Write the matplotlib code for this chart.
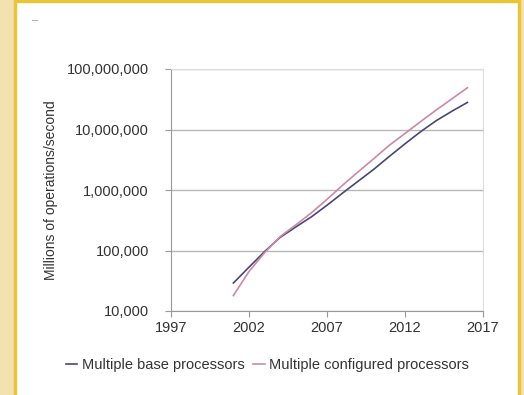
import matplotlib.pyplot as plt
from matplotlib.patches import Rectangle
from matplotlib.ticker import FuncFormatter

years = list(range(2001, 2017))
base = [29000, 53000, 96000, 165000, 245000, 360000, 560000, 890000,
        1400000, 2200000, 3600000, 5800000, 9200000, 14000000, 20000000, 28000000]
configured = [18000, 45000, 92000, 170000, 265000, 420000, 700000, 1200000,
              2000000, 3300000, 5500000, 8600000, 13500000, 21000000, 32000000, 49000000]
labels = ['Multiple base processors', 'Multiple configured processors']
xticks = [1997, 2002, 2007, 2012, 2017]

plt.rcParams['font.family'] = ['Liberation Sans', 'DejaVu Sans']

fig = plt.figure(figsize=(5.24, 3.95), dpi=100)
fig.patch.set_facecolor('white')
W, H = 524, 395
# beige margins and gold frame
fig.patches.append(Rectangle((0, 0), 14 / W, 1, transform=fig.transFigure, color='#f2e2b0', zorder=0))
fig.patches.append(Rectangle((520 / W, 0), 4 / W, 1, transform=fig.transFigure, color='#f2e2b0', zorder=0))
fig.patches.append(Rectangle((14 / W, 0), 2 / W, 1, transform=fig.transFigure, color='#e6c637', zorder=1))
fig.patches.append(Rectangle((518 / W, 0), 2 / W, 1, transform=fig.transFigure, color='#e6c637', zorder=1))
fig.patches.append(Rectangle((14 / W, 393 / H), 506 / W, 2 / H, transform=fig.transFigure, color='#e6c637', zorder=1))
fig.text(35 / W, 1 - 20 / H, '\u2013', color='#999999', fontsize=8, ha='center', va='center')

ax = fig.add_axes([171 / W, 1 - 311 / H, (483 - 171) / W, (311 - 69) / H])
ax.plot(years, base, color='#4a4870', lw=1.2, label=labels[0])
ax.plot(years, configured, color='#c98aa8', lw=1.2, label=labels[1])
ax.set_yscale('log')
ax.set_ylim(1e4, 1e8)
ax.set_xlim(1997, 2017)
ax.set_xticks(xticks)
ax.set_yticks([1e4, 1e5, 1e6, 1e7, 1e8])
ax.minorticks_off()
ax.yaxis.set_major_formatter(FuncFormatter(lambda v, p: '{:,.0f}'.format(v)))
ax.grid(axis='y', color='#b8b8b8', lw=1)
for s in ['top', 'right']:
    ax.spines[s].set_color('#dddddd')
for s in ['left', 'bottom']:
    ax.spines[s].set_color('#999999')
ax.tick_params(colors='#999999', labelcolor='#333333', labelsize=10.5, length=4, direction='out')
ax.tick_params(axis='y', pad=12)
ax.set_ylabel('Millions of operations/second', fontsize=10, color='#333333', labelpad=6)
ax.legend(loc='center', bbox_to_anchor=(0.5 * (60 + 475) / W, 1 - 365 / H), bbox_transform=fig.transFigure,
          ncol=2, frameon=False, fontsize=10.5, handlelength=0.8, handletextpad=0.3, columnspacing=0.6,
          labelcolor='#333333')

fig.savefig('out.png', dpi=100)
